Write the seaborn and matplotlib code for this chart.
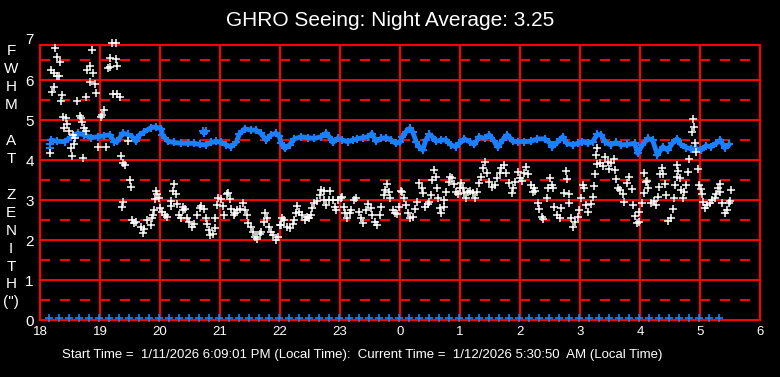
import numpy as np
import pandas as pd
import matplotlib
matplotlib.use("Agg")
import matplotlib.pyplot as plt
import seaborn as sns

# seeing samples (hours since midnight of start day, FWHM arcsec)
white_t = [18.16, 18.18, 18.20, 18.23, 18.23, 18.25, 18.28, 18.28, 18.32, 18.33, 18.35, 18.37, 18.38, 18.40,
           18.43, 18.45, 18.49, 18.52, 18.53, 18.55, 18.57, 18.59, 18.62, 18.66, 18.69, 18.70, 18.72, 18.74,
           18.76, 18.77, 18.78, 18.83, 18.84, 18.87, 18.89, 18.92, 18.93, 18.97, 19.02, 19.03, 19.07, 19.10,
           19.13, 19.17, 19.17, 19.20, 19.22, 19.26, 19.27, 19.28, 19.29, 19.33, 19.35, 19.37, 19.38, 19.39,
           19.42, 19.47, 19.50, 19.52, 19.54, 19.57, 19.60, 19.68, 19.71, 19.73, 19.79, 19.85, 19.86, 19.88,
           19.90, 19.92, 19.93, 19.95, 19.99,
           20.00, 20.04, 20.08, 20.12, 20.18, 20.19, 20.21, 20.23, 20.27, 20.28, 20.32, 20.35, 20.38, 20.39,
           20.42, 20.45, 20.49, 20.53, 20.56, 20.62, 20.66, 20.69, 20.74, 20.77, 20.78, 20.81, 20.84, 20.88,
           20.91, 20.92, 20.95, 20.97, 21.01, 21.05, 21.07, 21.11, 21.14, 21.17, 21.18, 21.23, 21.25, 21.29,
           21.34, 21.38, 21.42, 21.45, 21.46, 21.51, 21.55, 21.58, 21.62, 21.66, 21.68, 21.73, 21.75, 21.78,
           21.81, 21.85, 21.89, 21.93, 21.97,
           22.00, 22.02, 22.04, 22.07, 22.12, 22.17, 22.21, 22.24, 22.27, 22.29, 22.32, 22.36, 22.41, 22.45,
           22.49, 22.52, 22.54, 22.57, 22.62, 22.66, 22.68, 22.73, 22.74, 22.77, 22.81, 22.84, 22.88, 22.91,
           22.93, 22.96, 23.01, 23.03, 23.06, 23.08, 23.12, 23.16, 23.19, 23.24, 23.27, 23.31, 23.35, 23.39,
           23.43, 23.46, 23.51, 23.54, 23.58, 23.62, 23.66, 23.69, 23.73, 23.75, 23.78, 23.81, 23.84, 23.88,
           23.91, 23.95, 23.99,
           24.02, 24.04, 24.07, 24.10, 24.13, 24.17, 24.21, 24.25, 24.28, 24.31, 24.36, 24.38, 24.41, 24.46,
           24.49, 24.52, 24.54, 24.57, 24.60, 24.62, 24.64, 24.66, 24.69, 24.73, 24.74, 24.77, 24.81, 24.83,
           24.87, 24.90, 24.93, 24.96, 25.00, 25.02, 25.05, 25.07, 25.10, 25.14, 25.17, 25.21, 25.25, 25.28,
           25.31, 25.35, 25.38, 25.42, 25.45, 25.49, 25.53, 25.58, 25.62, 25.66, 25.69, 25.73, 25.77, 25.81,
           25.86, 25.89, 25.92, 25.96, 26.00,
           26.03, 26.07, 26.10, 26.14, 26.18, 26.21, 26.23, 26.25, 26.30, 26.32, 26.36, 26.39, 26.45, 26.47,
           26.50, 26.53, 26.55, 26.57, 26.62, 26.66, 26.69, 26.74, 26.77, 26.78, 26.81, 26.82, 26.85, 26.88,
           26.92, 26.96, 26.98, 27.01, 27.05, 27.07, 27.10, 27.14, 27.18, 27.21, 27.23, 27.25, 27.27, 27.28,
           27.29, 27.34, 27.38, 27.42, 27.46, 27.49, 27.52, 27.56, 27.58, 27.60, 27.63, 27.66, 27.71, 27.74,
           27.79, 27.82, 27.86, 27.89, 27.91, 27.95, 27.99,
           27.99, 28.04, 28.06, 28.07, 28.10, 28.12, 28.14, 28.18, 28.23, 28.27, 28.30, 28.32, 28.34, 28.36,
           28.38, 28.41, 28.44, 28.46, 28.51, 28.55, 28.57, 28.58, 28.62, 28.62, 28.64, 28.66, 28.68, 28.72,
           28.74, 28.77, 28.80, 28.82, 28.87, 28.88, 28.90, 28.92, 28.94, 28.96, 28.99, 29.01, 29.03, 29.05,
           29.08, 29.12, 29.16, 29.20, 29.25, 29.27, 29.30, 29.33, 29.34, 29.37, 29.41, 29.45, 29.48, 29.50,
           29.52]
white_v = [4.17, 6.25, 5.69, 6.18, 5.82, 6.79, 6.57, 6.11, 6.09, 6.44, 5.47, 5.62, 5.07, 4.79,
           5.04, 4.89, 4.73, 4.29, 4.09, 4.62, 4.41, 4.54, 5.47, 5.10, 5.06, 4.94, 4.04, 4.80,
           4.72, 5.57, 6.26, 5.94, 6.36, 6.74, 6.17, 5.89, 5.67, 4.33, 5.07, 5.12, 5.25, 4.33,
           6.31, 6.54, 6.33, 6.94, 5.64, 6.52, 6.94, 6.34, 5.64, 5.57, 4.09, 2.82, 2.94, 3.93,
           3.88, 4.47, 3.49, 3.32, 2.50, 2.42, 2.46, 2.33, 2.17, 2.28, 2.50, 2.38, 2.56, 2.63,
           2.76, 3.03, 3.23, 3.14, 3.04,
           2.79, 2.71, 2.63, 2.58, 2.86, 2.98, 3.23, 3.40, 3.14, 2.89, 2.63, 2.56, 2.75, 2.83,
           2.78, 2.54, 2.46, 2.33, 2.39, 2.63, 2.79, 2.86, 2.78, 2.56, 2.39, 2.25, 2.13, 2.14,
           2.31, 2.54, 2.88, 3.06, 3.03, 2.86, 2.63, 3.14, 3.17, 3.03, 2.78, 2.63, 2.67, 2.75,
           2.78, 2.92, 2.75, 2.63, 2.42, 2.33, 2.21, 2.08, 2.03, 2.14, 2.21, 2.46, 2.67, 2.54,
           2.33, 2.21, 2.13, 2.00, 2.08,
           2.38, 2.38, 2.56, 2.50, 2.33, 2.31, 2.39, 2.50, 2.67, 2.86, 2.71, 2.63, 2.50, 2.58,
           2.54, 2.63, 2.79, 2.92, 2.98, 3.13, 3.25, 3.23, 3.00, 2.88, 3.00, 3.23, 3.00, 2.83,
           2.75, 3.00, 3.06, 3.08, 2.83, 2.67, 2.56, 2.67, 2.75, 3.00, 3.04, 2.71, 2.56, 2.42,
           2.75, 2.89, 2.79, 2.63, 2.46, 2.38, 2.63, 2.83, 3.13, 3.25, 3.39, 3.21, 3.04, 2.75,
           2.67, 2.64, 2.83,
           3.23, 3.21, 3.06, 2.88, 2.67, 2.54, 2.58, 2.78, 2.96, 3.42, 3.29, 3.17, 2.83, 2.89,
           2.96, 3.13, 3.50, 3.75, 3.58, 3.31, 3.06, 2.81, 2.67, 2.83, 3.00, 3.21, 3.46, 3.58,
           3.54, 3.39, 3.21, 3.14, 3.29, 3.42, 3.29, 3.17, 3.04, 3.21, 3.23, 3.17, 3.06, 3.21,
           3.42, 3.58, 3.79, 3.94, 3.67, 3.46, 3.33, 3.38, 3.54, 3.67, 3.79, 3.88, 3.67, 3.42,
           3.17, 3.29, 3.46, 3.71, 3.56,
           3.48, 3.67, 3.83, 3.64, 3.38, 3.21, 3.29, 3.23, 2.92, 2.78, 2.58, 2.53, 3.04, 3.29,
           3.56, 3.38, 3.29, 2.83, 2.63, 2.56, 2.79, 3.17, 3.73, 3.53, 3.14, 2.92, 2.54, 2.33,
           2.46, 2.58, 2.75, 3.06, 3.38, 3.29, 2.88, 2.71, 2.89, 3.08, 3.36, 3.64, 4.13, 3.89,
           4.29, 3.92, 3.86, 4.08, 3.96, 3.78, 3.92, 4.03, 3.75, 3.53, 3.29, 3.25, 3.14, 2.96,
           3.42, 3.58, 3.28, 2.88, 2.61, 2.42, 2.71,
           2.46, 2.92, 3.17, 3.67, 3.46, 3.48, 3.31, 2.92, 2.98, 2.88, 3.08, 3.33, 3.64, 3.81,
           3.64, 3.39, 3.13, 2.48, 2.56, 2.78, 3.04, 3.38, 3.88, 3.58, 3.73, 3.54, 3.25, 3.04,
           3.21, 3.38, 3.69, 4.03, 4.71, 5.03, 4.83, 4.42, 4.21, 3.78, 3.38, 3.28, 3.14, 2.96,
           2.81, 2.88, 2.92, 3.00, 3.06, 3.14, 3.29, 3.39, 3.21, 2.92, 2.67, 2.75, 2.92, 2.98,
           3.25]

# second (blue) series
blue_t = [18.18, 18.29, 18.41, 18.52, 18.63, 18.74, 18.85, 18.96, 19.07, 19.16, 19.24, 19.29, 19.38, 19.46,
          19.54, 19.60, 19.66, 19.74, 19.85, 19.93, 20.02, 20.04, 20.13, 20.24, 20.35, 20.46, 20.57, 20.66,
          20.77, 20.85, 20.93, 21.02, 21.10, 21.18, 21.27, 21.32, 21.41, 21.52, 21.60, 21.68, 21.77, 21.85,
          21.93, 21.99, 22.02, 22.08, 22.16, 22.24, 22.35, 22.46, 22.57, 22.68, 22.77, 22.82, 22.88, 22.96,
          23.04, 23.13, 23.21, 23.29, 23.38, 23.46, 23.53, 23.60, 23.68, 23.77, 23.85, 23.93, 24.00, 24.04,
          24.10, 24.16, 24.21, 24.27, 24.32, 24.38, 24.43, 24.49, 24.54, 24.60, 24.68, 24.77, 24.85, 24.93,
          24.99, 25.07, 25.16, 25.24, 25.32, 25.41, 25.49, 25.57, 25.63, 25.71, 25.79, 25.88, 25.96, 26.07,
          26.18, 26.29, 26.41, 26.49, 26.54, 26.62, 26.71, 26.78, 26.88, 26.96, 27.04, 27.13, 27.21, 27.29,
          27.35, 27.42, 27.51, 27.60, 27.68, 27.79, 27.91, 27.96, 28.04, 28.13, 28.21, 28.29, 28.38, 28.46,
          28.54, 28.62, 28.68, 28.77, 28.85, 28.93, 29.02, 29.10, 29.18, 29.27, 29.34, 29.41, 29.49]
blue_v = [4.50, 4.47, 4.46, 4.58, 4.67, 4.63, 4.56, 4.58, 4.61, 4.63, 4.46, 4.47, 4.67, 4.64,
          4.58, 4.47, 4.63, 4.71, 4.81, 4.83, 4.78, 4.63, 4.47, 4.44, 4.42, 4.42, 4.42, 4.39,
          4.38, 4.44, 4.47, 4.44, 4.38, 4.33, 4.44, 4.64, 4.78, 4.75, 4.75, 4.67, 4.50, 4.63,
          4.67, 4.60, 4.42, 4.29, 4.38, 4.53, 4.58, 4.56, 4.54, 4.58, 4.67, 4.58, 4.44, 4.54,
          4.50, 4.46, 4.50, 4.53, 4.56, 4.58, 4.66, 4.47, 4.54, 4.56, 4.50, 4.42, 4.45, 4.58,
          4.71, 4.79, 4.71, 4.46, 4.33, 4.25, 4.50, 4.64, 4.58, 4.47, 4.50, 4.50, 4.38, 4.33,
          4.42, 4.53, 4.46, 4.39, 4.58, 4.54, 4.63, 4.47, 4.33, 4.50, 4.63, 4.47, 4.46, 4.46,
          4.47, 4.53, 4.53, 4.44, 4.33, 4.44, 4.58, 4.42, 4.38, 4.42, 4.46, 4.42, 4.46, 4.64,
          4.63, 4.46, 4.38, 4.44, 4.38, 4.39, 4.42, 4.17, 4.38, 4.54, 4.50, 4.13, 4.33, 4.25,
          4.42, 4.53, 4.39, 4.31, 4.28, 4.29, 4.25, 4.36, 4.33, 4.42, 4.50, 4.31, 4.39]
blue_extra_t = [18.17, 18.17, 20.72, 20.74, 20.76]
blue_extra_v = [4.39, 4.30, 4.72, 4.67, 4.72]

# 10-minute sample markers along the bottom
base_t = 18.145 + np.arange(68) / 6.0
base_v = np.zeros(len(base_t))

hour_ticks = list(range(18, 31))
hour_labels = ["18", "19", "20", "21", "22", "23", "0", "1", "2", "3", "4", "5", "6"]

title = "GHRO Seeing: Night Average: 3.25"
footer = "Start Time =  1/11/2026 6:09:01 PM (Local Time):  Current Time =  1/12/2026 5:30:50  AM (Local Time)"
ylabel_letters = ["F", "W", "H", "M", "", "A", "T", "", "Z", "E", "N", "I", "T", "H", '(")']

RED = "#ff0000"
BLUE = "#1a80ff"

sns.set_theme(style="dark")
plt.rcParams["font.family"] = ["Liberation Sans", "DejaVu Sans"]
plt.rcParams["lines.scale_dashes"] = False

fig = plt.figure(figsize=(7.8, 3.77), dpi=100, facecolor="black")
ax = fig.add_axes([40 / 780, 1 - 320 / 377, 720 / 780, (320 - 45.3) / 377])
ax.set_facecolor("black")

# grid
for h in range(19, 30):
    ax.axvline(h, color=RED, lw=1.5, zorder=1)
for v in range(1, 7):
    ax.axhline(v, color=RED, lw=1.5, zorder=1)
ax.hlines(np.arange(0.5, 7, 1.0), 18, 29.85, colors=RED, lw=1.5,
          linestyles=[(0, (7.2, 7.2))], zorder=1)

white = pd.DataFrame({"t": white_t, "v": white_v})
blue = pd.DataFrame({"t": blue_t, "v": blue_v})

sns.lineplot(data=blue, x="t", y="v", color=BLUE, lw=3.5, marker="+", markersize=6,
             mew=1.5, mec=BLUE, sort=False, estimator=None, ax=ax, zorder=2)
sns.scatterplot(x=blue_extra_t, y=blue_extra_v, marker="+", color=BLUE, s=30,
                linewidth=1.5, ax=ax, zorder=2)
sns.scatterplot(data=white, x="t", y="v", marker="+", color="white", s=32,
                linewidth=1.1, ax=ax, zorder=3, clip_on=False)
sns.scatterplot(x=base_t, y=base_v + 0.04, marker="+", color=BLUE, s=26,
                linewidth=1.2, ax=ax, zorder=3, clip_on=False)

ax.set_xlim(18, 30)
ax.set_ylim(0, 6.87)
ax.set_xticks(hour_ticks)
ax.set_xticklabels(hour_labels)
ax.set_yticks(range(0, 7))
ax.tick_params(axis="x", colors="white", length=0, labelsize=9.5, pad=4)
ax.tick_params(axis="y", colors="white", length=0, labelsize=11, pad=4.5)
ax.annotate("7", xy=(0, 7), xycoords=("axes fraction", "data"), xytext=(-4.5, 0),
            textcoords="offset points", ha="right", va="center", color="white",
            fontsize=11, annotation_clip=False)
ax.set_xlabel("")
ax.set_ylabel("")
ax.grid(False)
for s in ax.spines.values():
    s.set_color(RED)
    s.set_linewidth(1.5)
    s.set_visible(True)

fig.text(0.5, 1 - 20 / 377, title, ha="center", va="center", color="white", fontsize=15)
fig.text(362 / 780, 1 - 355 / 377, footer, ha="center", va="center", color="white", fontsize=9.5)
fig.text(11 / 780, 1 - 44 / 377, "\n".join(ylabel_letters), ha="center", va="top",
         multialignment="center", color="white", fontsize=11, linespacing=1.36)

fig.savefig("out.png", dpi=100, facecolor="black")
